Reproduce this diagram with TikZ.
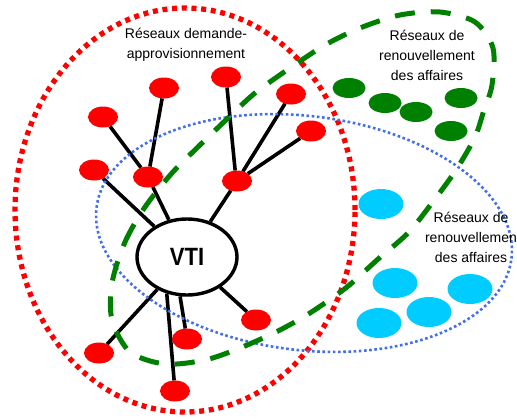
\documentclass[tikz,border=0pt]{standalone}
\usepackage{fontspec}
\setmainfont{Liberation Sans}
\usetikzlibrary{shapes.geometric}
\definecolor{vred}{RGB}{255,0,0}
\definecolor{vgreen}{RGB}{0,128,0}
\definecolor{vcyan}{RGB}{0,204,255}
\definecolor{vblue}{RGB}{66,110,240}
\pgfdeclarelayer{bg}\pgfdeclarelayer{fg}\pgfsetlayers{bg,main,fg}
\begin{document}
\begin{tikzpicture}[x=1pt,y=-1pt,
 rnode/.style={ellipse,fill=vred,minimum width=30pt,minimum height=21pt,inner sep=0pt,outer sep=0pt},
 gnode/.style={ellipse,fill=vgreen,minimum width=33pt,minimum height=20pt,inner sep=0pt},
 cnode/.style={ellipse,fill=vcyan,minimum width=45pt,minimum height=30pt,inner sep=0pt},
 conn/.style={line width=3.6pt,black},
 lbl/.style={align=center,font=\fontsize{14}{20}\selectfont,inner sep=0pt},
 reddot/.style={draw=vred,line width=5.3pt,dash pattern=on 5pt off 4.7pt},
 bluedot/.style={draw=vblue,line width=2.6pt,dash pattern=on 2.6pt off 2.6pt},
 greendash/.style={draw=vgreen,line width=5pt,dash pattern=on 20pt off 16pt}
]
\useasboundingbox (0,0) rectangle (517,418);

% outlines
\draw[reddot] (185,210) ellipse [x radius=170pt, y radius=202pt];
\draw[bluedot, rotate around={-7:(304,233)}] (304,233) ellipse [x radius=209pt, y radius=117pt];
\draw[greendash] plot[smooth cycle] coordinates {
 (112,283) (125,242) (145,207) (172,173) (200,145) (228,118) (255,93) (290,68)
 (325,45) (360,28) (400,15) (440,12) (475,22) (493,48) (492,85) (484,110)
 (475,137) (456,170) (432,203) (408,233) (377,260) (347,287) (310,313)
 (278,331) (240,348) (205,360) (165,364) (130,352) (112,320)};

% labels
\node[lbl] (t1) at (186,45) {Réseaux demande-\\approvisionnement};
\node[lbl] (t2) at (427,55) {Réseaux de\\renouvellement\\des affaires};
\node[lbl] (t3) at (471,237) {Réseaux de\\renouvellemen\\des affaires};

\begin{pgfonlayer}{fg}
\node[ellipse,draw=black,line width=3.4pt,fill=white,minimum width=100pt,minimum height=76pt,inner sep=0pt] (vti) at (187,257)
  {\fontsize{25}{28}\selectfont\bfseries\scalebox{0.88}[1]{VTI}};
\node[rnode] (r1) at (226,77) {};
\node[rnode] (r2) at (164,88) {};
\node[rnode] (r3) at (291,94) {};
\node[rnode] (r4) at (103,117) {};
\node[rnode] (r5) at (311,131) {};
\node[rnode] (r6) at (94,170) {};
\node[rnode] (r7) at (148,177) {};
\node[rnode] (r8) at (237,181) {};
\node[rnode] (r9) at (99,353) {};
\node[rnode] (r10) at (175,391) {};
\node[rnode] (r11) at (187,339) {};
\node[rnode] (r12) at (256,320) {};
\node[gnode] (g1) at (349,88) {};
\node[gnode] (g2) at (385,103) {};
\node[gnode] (g3) at (416,112) {};
\node[gnode] (g4) at (461,98) {};
\node[gnode] (g5) at (451,131) {};
\node[cnode] (c1) at (381,204) {};
\node[cnode] (c2) at (395,283) {};
\node[cnode] (c3) at (470,289) {};
\node[cnode] (c4) at (429,312) {};
\node[cnode] (c5) at (379,323) {};
\end{pgfonlayer}

\begin{pgfonlayer}{bg}
\draw[conn] (vti) -- (r7);
\draw[conn] (vti) -- (r6);
\draw[conn] (vti) -- (r8);
\draw[conn] (r7) -- (r4);
\draw[conn] (r7) -- (r2);
\draw[conn] (r8.100) -- (r1);
\draw[conn] (r8) -- (r3);
\draw[conn] (r8) -- (r5);
\draw[conn] (vti) -- (r9);
\draw[conn] (vti.241) -- (r10);
\draw[conn] (vti.260) -- (r11);
\draw[conn] (vti) -- (r12);
\end{pgfonlayer}
\end{tikzpicture}
\end{document}
